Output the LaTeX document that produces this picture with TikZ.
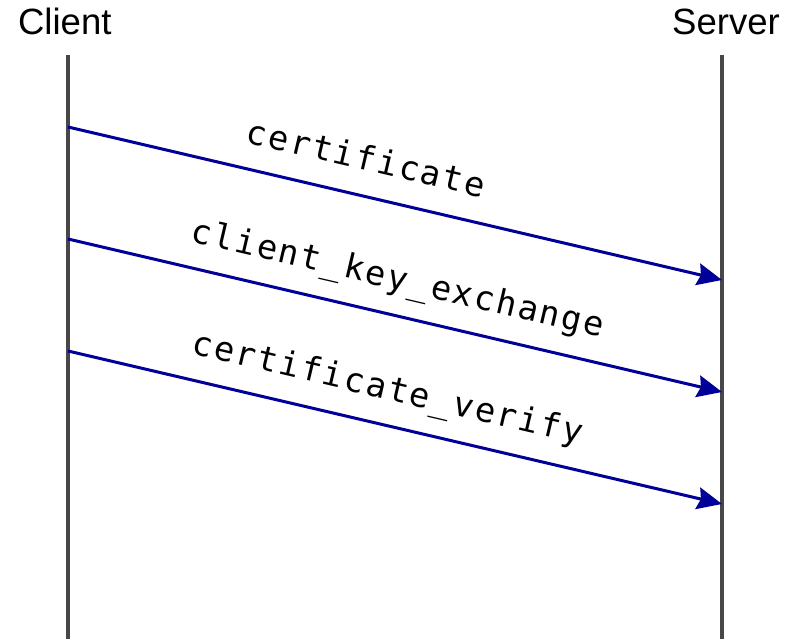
\documentclass[tikz,border=0pt]{standalone}
\usepackage{fontspec}
\setmainfont{Liberation Sans}
\newfontfamily\codefont{DejaVu Sans Mono}[LetterSpace=6]
\usetikzlibrary{arrows.meta}
\definecolor{msgblue}{HTML}{000099}
\definecolor{lifegray}{HTML}{474747}

\begin{document}
\begin{tikzpicture}[>={Stealth[length=0.62cm,width=0.55cm,inset=0.08cm]},
  party/.style={anchor=base,font=\fontsize{26pt}{30pt}\selectfont},
  lifeline/.style={line width=0.1cm,lifegray},
  msg/.style={->,line width=0.075cm,msgblue},
  msglabel/.style={sloped,above=0.6cm,inner sep=0pt,text depth=0pt,black,
    font=\codefont\fontsize{24pt}{28pt}\selectfont}]

\useasboundingbox (0,0) rectangle (19.75,15.975);

%------------------------
% Parties
%------------------------
\node[party] (client) at (1.62,15.1) {Client};
\node[party] (server) at (18.15,15.1) {Server};

%------------------------
% Lifelines
%------------------------
\coordinate (client-top) at (1.7,14.6);
\coordinate (client-bot) at (1.7,0);
\coordinate (server-top) at (18.05,14.6);
\coordinate (server-bot) at (18.05,0);

\draw[lifeline] (client-top) -- (client-bot);
\draw[lifeline] (server-top) -- (server-bot);

%------------------------
% Messages
%------------------------
\coordinate (c1) at (1.7,12.8);
\coordinate (s1) at (18.05,8.975);
\coordinate (c2) at (1.7,10.0);
\coordinate (s2) at (18.05,6.175);
\coordinate (c3) at (1.7,7.2);
\coordinate (s3) at (18.05,3.375);

\draw[msg] (c1) -- node[msglabel,pos=0.443] (m1) {certificate} (s1);
\draw[msg] (c2) -- node[msglabel,pos=0.492] (m2) {client\_key\_exchange} (s2);
\draw[msg] (c3) -- node[msglabel,pos=0.476] (m3) {certificate\_verify} (s3);

\end{tikzpicture}
\end{document}
